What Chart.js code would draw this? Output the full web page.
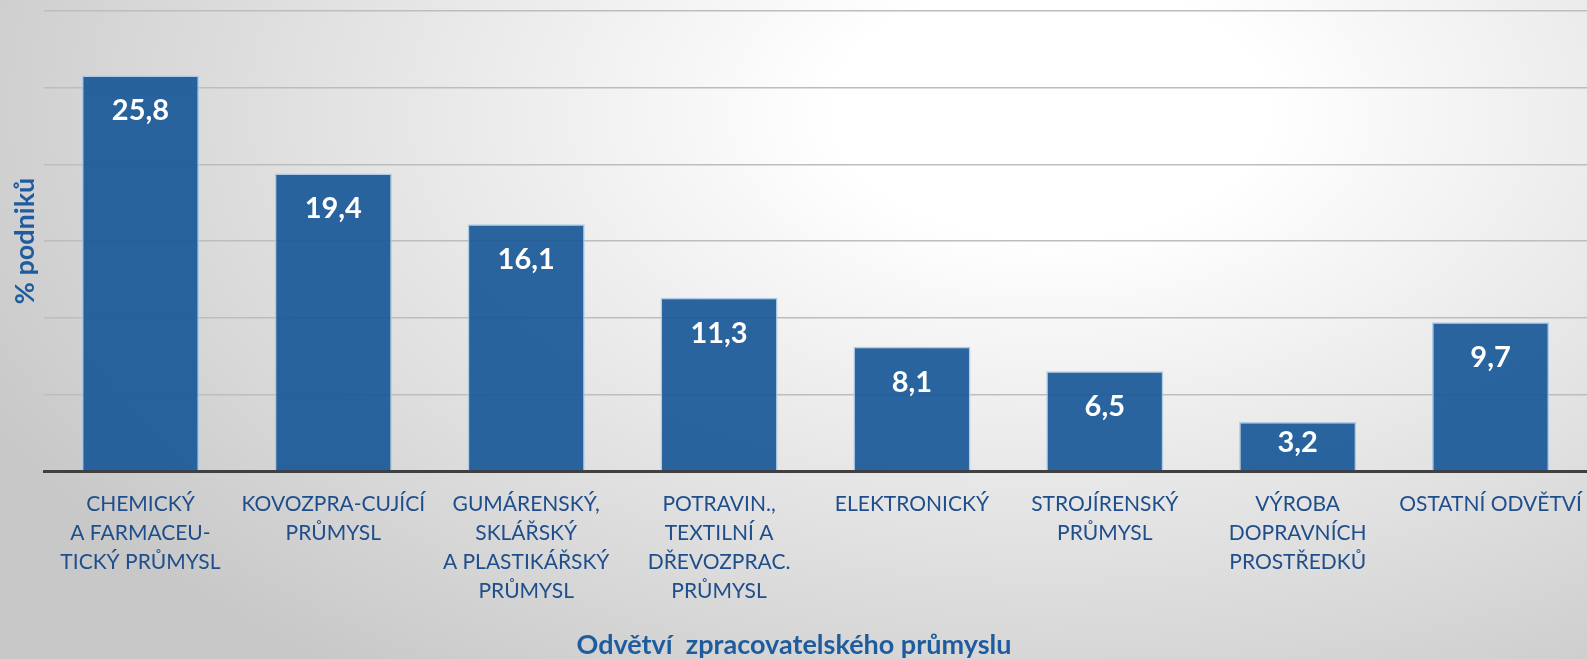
<!DOCTYPE html>
<html>
<head>
<meta charset="utf-8">
<script src="https://cdn.jsdelivr.net/npm/chart.js@4.4.1/dist/chart.umd.min.js"></script>
<style>
  html, body { margin: 0; padding: 0; }
  body { width: 1587px; height: 659px; overflow: hidden; }
  #wrap { width: 1587px; height: 659px; position: relative; }
</style>
</head>
<body>
<div id="wrap"><canvas id="c" width="1587" height="659"></canvas></div>
<script>
const categories = [
  ["CHEMICKÝ", "A FARMACEU-", "TICKÝ PRŮMYSL"],
  ["KOVOZPRA-CUJÍCÍ", "PRŮMYSL"],
  ["GUMÁRENSKÝ,", "SKLÁŘSKÝ", "A PLASTIKÁŘSKÝ", "PRŮMYSL"],
  ["POTRAVIN.,", "TEXTILNÍ A", "DŘEVOZPRAC.", "PRŮMYSL"],
  ["ELEKTRONICKÝ"],
  ["STROJÍRENSKÝ", "PRŮMYSL"],
  ["VÝROBA", "DOPRAVNÍCH", "PROSTŘEDKŮ"],
  ["OSTATNÍ ODVĚTVÍ"]
];
const values = [25.8, 19.4, 16.1, 11.3, 8.1, 6.5, 3.2, 9.7];
const valueLabels = ["25,8", "19,4", "16,1", "11,3", "8,1", "6,5", "3,2", "9,7"];
const yAxisTitle = "% podniků";
const xAxisTitle = "Odvětví  zpracovatelského průmyslu";
const yMax = 30;
const yStep = 5;

const FONT = "Lato, 'Open Sans', sans-serif";
const TEXT_BLUE = "#1F4E8C";
const TITLE_BLUE = "#1F5C9E";

const bgPlugin = {
  id: 'bg',
  beforeDraw(chart) {
    const ctx = chart.ctx;
    const W = chart.width, H = chart.height;
    ctx.save();
    ctx.translate(1050, 110);
    ctx.scale(1.7, 1);
    const g = ctx.createRadialGradient(0, 0, 0, 0, 0, 700);
    g.addColorStop(0, '#ffffff');
    g.addColorStop(0.18, '#ffffff');
    g.addColorStop(1, '#c8c8c8');
    ctx.fillStyle = g;
    ctx.fillRect(-1050 / 1.7 - 10, -120, (W + 20) / 1.7 + 10, H + 20);
    ctx.restore();
  }
};

const labelPlugin = {
  id: 'vlabels',
  afterDatasetsDraw(chart) {
    const ctx = chart.ctx;
    const meta = chart.getDatasetMeta(0);
    ctx.save();
    ctx.fillStyle = '#ffffff';
    ctx.font = "bold 29px " + FONT;
    ctx.textAlign = 'center';
    ctx.textBaseline = 'middle';
    meta.data.forEach((bar, i) => {
      const h = bar.base - bar.y;
      const off = Math.min(32.5, h / 2 - 6) + 3;
      ctx.fillText(valueLabels[i], bar.x, bar.y + off);
    });
    ctx.restore();
  }
};

const titlePlugin = {
  id: 'titles',
  afterDraw(chart) {
    const ctx = chart.ctx;
    const ca = chart.chartArea;
    ctx.save();
    ctx.fillStyle = TITLE_BLUE;
    ctx.font = "bold 27px " + FONT;
    ctx.textAlign = 'center';
    ctx.textBaseline = 'middle';
    ctx.translate(25, (ca.top + ca.bottom) / 2);
    ctx.rotate(-Math.PI / 2);
    ctx.fillText(yAxisTitle, 0, 0);
    ctx.restore();

    ctx.save();
    ctx.fillStyle = TITLE_BLUE;
    ctx.font = "bold 27px " + FONT;
    ctx.textAlign = 'center';
    ctx.textBaseline = 'alphabetic';
    ctx.fillText(xAxisTitle, 794, 654);
    ctx.restore();
  }
};

new Chart(document.getElementById('c'), {
  type: 'bar',
  data: {
    labels: categories,
    datasets: [{
      data: values,
      backgroundColor: 'rgba(24, 88, 152, 0.92)',
      borderColor: 'rgba(170, 200, 228, 0.9)',
      borderWidth: 1.5,
      borderSkipped: 'bottom',
      categoryPercentage: 1.0,
      barPercentage: 0.607
    }]
  },
  options: {
    responsive: false,
    animation: false,
    devicePixelRatio: 1,
    layout: { padding: { top: 11, right: 0, left: 0, bottom: 0 } },
    plugins: {
      legend: { display: false },
      tooltip: { enabled: false },
      title: { display: false }
    },
    scales: {
      x: {
        grid: { display: false, drawTicks: false },
        border: { display: true, color: '#404040', width: 3 },
        ticks: {
          autoSkip: false,
          maxRotation: 0,
          minRotation: 0,
          padding: 19,
          color: TEXT_BLUE,
          font: { family: FONT, size: 21, lineHeight: 1.38 }
        },
        afterFit(scale) {
          scale.height = 659 - 471;
          scale.paddingLeft = 0;
          scale.paddingRight = 0;
        }
      },
      y: {
        min: 0,
        max: yMax,
        ticks: { stepSize: yStep, display: false },
        grid: { color: '#bdbdbd', lineWidth: 1.5, drawTicks: false },
        border: { display: false },
        afterFit(scale) { scale.width = 44; }
      }
    }
  },
  plugins: [bgPlugin, labelPlugin, titlePlugin]
});
</script>
</body>
</html>
